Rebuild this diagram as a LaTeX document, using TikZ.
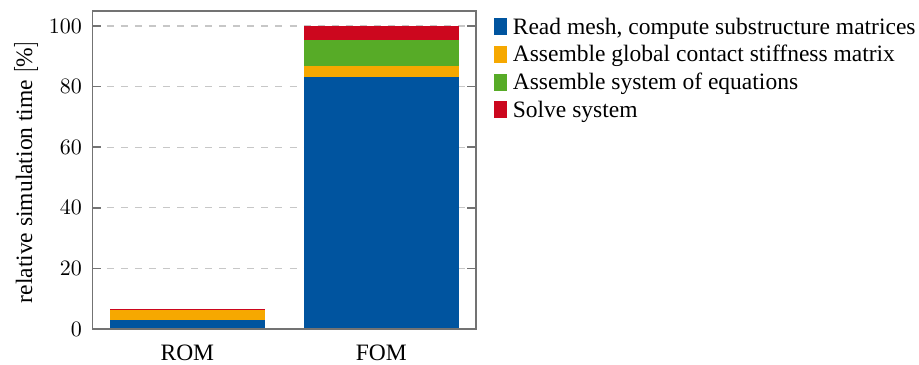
\documentclass[tikz,border=0pt]{standalone}
\usepackage{fontspec}
\setmainfont{Liberation Serif}
\usetikzlibrary{calc}

\definecolor{rwthblue}{RGB}{0,84,159}
\definecolor{rwthorange}{RGB}{246,168,0}
\definecolor{rwthgreen}{RGB}{87,171,39}
\definecolor{rwthred}{RGB}{204,7,30}

\begin{document}
\begin{tikzpicture}[x=3.104cm, y=0.04848cm,
    axisline/.style={draw=black!55, line width=0.7pt},
    gridline/.style={black!22, line width=0.5pt, dash pattern=on 3.2pt off 3.2pt},
    ticklabel/.style={anchor=east, inner sep=0pt, font=\fontsize{10.4}{12}\selectfont},
    barlabel/.style={anchor=base, inner sep=0pt, font=\fontsize{10.7}{13}\selectfont},
    legbox/.style={fill=#1, inner sep=0pt, minimum width=0.208cm, minimum height=0.272cm},
    legtext/.style={anchor=base west, inner sep=0pt, font=\fontsize{10.7}{13}\selectfont}]
  \useasboundingbox (0.0342,-11.88) rectangle (4.7713,108.58);
  \def\xmin{0.512}
  \def\xmax{2.488}
  % Gitterlinien
  \foreach \v in {20,40,...,100}
    \draw[gridline] (\xmin,\v) -- (\xmax,\v);
  % gestapelte Balken: x/unten/oben/Farbe
  \foreach \x/\lo/\hi/\c in {1/0/3.0/rwthblue, 1/3.0/6.25/rwthorange, 1/6.25/6.75/rwthred,
                             2/0/83.2/rwthblue, 2/83.2/86.8/rwthorange, 2/86.8/95.4/rwthgreen, 2/95.4/100/rwthred}
    \fill[\c] (\x-0.4,\lo) rectangle (\x+0.4,\hi);
  % Achsen
  \draw[axisline] (\xmin,0) rectangle (\xmax,105);
  \foreach \v in {0,20,...,100} {
    \draw[axisline] (\xmin,\v) -- ++(0.14cm,0);
    \draw[axisline] (\xmax,\v) -- ++(-0.14cm,0);
    \node[ticklabel] (yt\v) at ([xshift=-0.165cm]\xmin,\v) {$\v$};
  }
  \node[rotate=90, font=\fontsize{10.7}{13}\selectfont] (ylab) at (0.1682,51.8) {relative simulation time $[\%]$};
  \node[barlabel] (rom) at (1,-10.5) {ROM};
  \node[barlabel] (fom) at (2,-10.5) {FOM};
  % Legende
  \foreach \c/\t [count=\i] in {rwthblue/{Read mesh, compute substructure matrices},
                                rwthorange/{Assemble global contact stiffness matrix},
                                rwthgreen/{Assemble system of equations},
                                rwthred/{Solve system}} {
    \node[legbox=\c] (lb\i) at (2.614,{99.8-9.17*(\i-1)}) {};
    \node[legtext] (lt\i) at ([xshift=0.08cm, yshift=-0.12cm]lb\i.east) {\t};
  }
\end{tikzpicture}
\end{document}
